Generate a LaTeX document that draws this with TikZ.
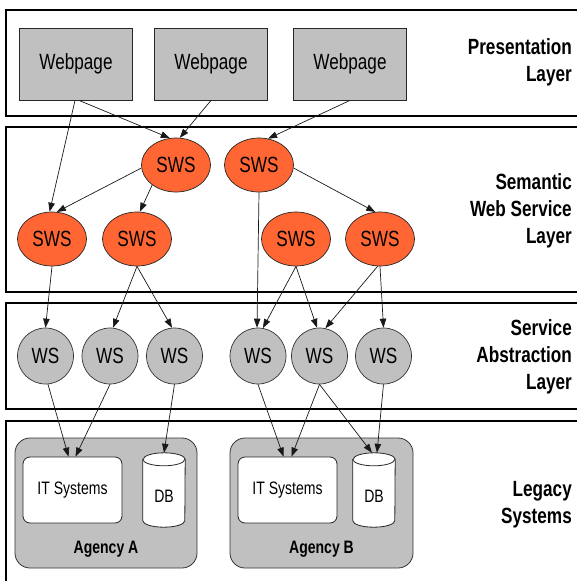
\documentclass[tikz,border=0pt]{standalone}
\usepackage{fontspec}
\usetikzlibrary{arrows.meta,shapes.geometric}
\newfontfamily\diafont{Liberation Sans}[FakeStretch=0.78]
\definecolor{swsfill}{HTML}{FF6633}
\definecolor{boxgray}{HTML}{C0C0C0}

\begin{document}
\begin{tikzpicture}[x=1pt,y=1pt,
  layer/.style={draw=black,line width=1.2pt},
  pagebox/.style={draw=black!85,fill=boxgray,line width=0.8pt,minimum width=113pt,minimum height=72pt,inner sep=0pt,font=\diafont\fontsize{22}{26}\selectfont},
  sws/.style={ellipse,draw=black!85,fill=swsfill,line width=0.7pt,minimum width=69pt,minimum height=54pt,inner sep=0pt,font=\diafont\fontsize{22}{26}\selectfont},
  ws/.style={circle,draw=black!80,fill=boxgray,line width=0.7pt,minimum size=56pt,inner sep=0pt,font=\diafont\fontsize{22}{26}\selectfont},
  agency/.style={draw=black!80,fill=boxgray,rounded corners=15pt,line width=0.8pt,minimum height=130pt,inner sep=0pt},
  agencylabel/.style={anchor=base,inner sep=0pt,font=\diafont\bfseries\fontsize{18}{21}\selectfont},
  itsys/.style={draw=black!85,fill=white,rounded corners=7pt,line width=0.8pt,minimum width=99pt,minimum height=66pt,inner sep=0pt,font=\diafont\fontsize{18}{21}\selectfont},
  dbnode/.style={minimum width=42pt,minimum height=74pt,inner sep=0pt},
  dbshape/.style={draw=black!85,fill=white,line width=0.8pt},
  dblabel/.style={inner sep=0pt,font=\diafont\fontsize{18}{21}\selectfont},
  link/.style={-{Triangle[length=9pt,width=6.5pt]},line width=0.7pt,draw=black!90},
  layerlabel/.style={anchor=east,align=right,inner sep=0pt,font=\diafont\bfseries\fontsize{22}{27}\selectfont}
]
\useasboundingbox (0,0) rectangle (576,-581);

% layer frames (open to the right and bottom)
\draw[layer] (6,-10) rectangle (590,-116);
\draw[layer] (6,-127) rectangle (590,-292);
\draw[layer] (6,-303) rectangle (590,-409);
\draw[layer] (6,-421) rectangle (590,-595);

% layer captions
\node[layerlabel] (lp) at (572,-62) {Presentation\\Layer};
\node[layerlabel] (ls) at (572,-211) {Semantic\\Web Service\\Layer};
\node[layerlabel] (la) at (572,-357) {Service\\Abstraction\\Layer};
\node[layerlabel] (ll) at (572,-505) {Legacy\\Systems};

% presentation layer
\node[pagebox] (w1) at (76,-64) {Webpage};
\node[pagebox] (w2) at (211,-64) {Webpage};
\node[pagebox] (w3) at (350,-64) {Webpage};

% semantic web services
\node[sws] (s1) at (176,-165) {SWS};
\node[sws] (s2) at (259,-165) {SWS};
\node[sws] (s3) at (52,-239) {SWS};
\node[sws] (s4) at (137,-239) {SWS};
\node[sws] (s5) at (296,-239) {SWS};
\node[sws] (s6) at (380,-239) {SWS};

% web services
\node[ws] (ws1) at (45.5,-356) {WS};
\node[ws] (ws2) at (110,-356) {WS};
\node[ws] (ws3) at (174.5,-356) {WS};
\node[ws] (ws4) at (258,-356) {WS};
\node[ws] (ws5) at (319.5,-356) {WS};
\node[ws] (ws6) at (383.5,-356) {WS};

% legacy systems: agencies
\node[agency,minimum width=182pt] (agA) at (106,-503) {};
\node[agency,minimum width=183pt] (agB) at (321.5,-503) {};
\node[agencylabel] (agAt) at (106,-553) {Agency A};
\node[agencylabel] (agBt) at (321.5,-553) {Agency B};

\node[itsys] (itA) at (72.5,-490) {IT Systems};
\node[itsys] (itB) at (287.5,-490) {IT Systems};

% database cylinders
\node[dbnode] (dbA) at (164,-490) {};
\node[dbnode] (dbB) at (374,-490) {};
\foreach \db in {dbA,dbB}{
  \path[dbshape] ([yshift=-6.5pt]\db.north west) -- ([yshift=6.5pt]\db.south west)
    arc[start angle=180,end angle=360,x radius=21pt,y radius=6.5pt]
    -- ([yshift=-6.5pt]\db.north east)
    arc[start angle=0,end angle=180,x radius=21pt,y radius=6.5pt] -- cycle;
  \draw[dbshape,fill=none] ([yshift=-6.5pt]\db.north west)
    arc[start angle=180,end angle=360,x radius=21pt,y radius=6.5pt];
}
\node[dblabel] (dbAt) at (164,-496) {DB};
\node[dblabel] (dbBt) at (374,-496) {DB};

% connectors: presentation -> semantic
\draw[link] ([xshift=-1pt]w1.south) -- (s3.95);
\draw[link] ([xshift=3pt]w1.south) -- (s1.103);
\draw[link] (w2.south) -- (s1.82);
\draw[link] (w3.south) -- (s2.71);

% semantic -> semantic
\draw[link] (s1.185) -- (s3.80);
\draw[link] (s1.220) -- (s4.84);
\draw[link] (s2.355) -- (s6.100);

% semantic -> web services
\draw[link] (s2.south) -- (ws4.92);
\draw[link] (s3.south) -- (ws1.north);
\draw[link] (s4.south) -- (ws2.84);
\draw[link] (s4.south) -- (ws3.95);
\draw[link] (s5.south) -- (ws4.80);
\draw[link] (s5.south) -- (ws5.95);
\draw[link] (s6.265) -- (ws5.78);
\draw[link] (s6.south) -- (ws6.north);

% web services -> legacy systems
\draw[link] (ws1.275) -- ([xshift=-4pt]itA.north);
\draw[link] (ws2.south) -- ([xshift=3pt]itA.north);
\draw[link] (ws3.south) -- (dbA.north);
\draw[link] (ws4.south) -- ([xshift=-4pt]itB.north);
\draw[link] (ws5.south) -- ([xshift=4pt]itB.north);
\draw[link] (ws5.south) -- ([xshift=-2pt]dbB.north);
\draw[link] (ws6.south) -- ([xshift=3pt]dbB.north);
\end{tikzpicture}
\end{document}
